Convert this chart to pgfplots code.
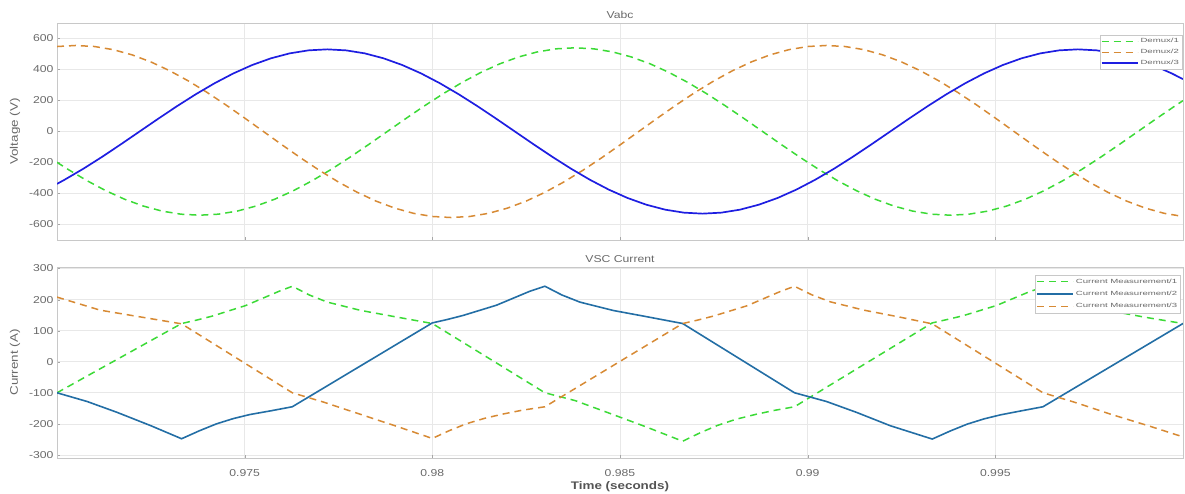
\documentclass[border=0pt]{standalone}
\usepackage{pgfplots}
\pgfplotsset{compat=1.18}
\usepackage{fontspec}
\setmainfont{Liberation Sans}[FakeStretch=1.22]
\newfontfamily\legfont{Liberation Sans}[FakeStretch=1.6]
\definecolor{gc}{RGB}{60,218,55}
\definecolor{oc}{RGB}{215,138,52}
\definecolor{bc}{RGB}{30,30,225}
\definecolor{bc2}{RGB}{35,110,165}
\definecolor{txt}{RGB}{105,105,105}
\definecolor{axc}{RGB}{200,200,200}
\pgfplotsset{
  common/.style={
    scale only axis,
    xmin=0.97, xmax=1.0,
    xtick={0.975,0.98,0.985,0.99,0.995},
    /pgf/number format/assume math mode=true,
    xticklabel style={/pgf/number format/fixed,/pgf/number format/precision=3,font=\fontsize{10}{12}\selectfont,text=txt,yshift=-8pt},
    yticklabel style={font=\fontsize{10}{12}\selectfont,text=txt},
    scaled x ticks=false,
    grid=major, major grid style={color=gray!18, line width=0.6pt},
    axis line style={color=axc, line width=0.8pt},
    tick style={color=gray!70}, tick align=inside, major tick length=3pt,
    xtick pos=bottom, ytick pos=left,
    title style={font=\fontsize{10}{12}\selectfont, text=txt, at={(0.5,1)}, anchor=center, yshift=2pt},
    ylabel style={font=\fontsize{11}{13}\selectfont, text=txt, at={(axis description cs:-0.0373,0.5)}, anchor=center},
    legend cell align=left,
    legend image code/.code={\draw[#1] (0pt,0pt) -- (36pt,0pt);},
    legend style={font=\legfont\fontsize{6}{7.5}\selectfont, text=txt, draw=axc, fill=white, inner xsep=1pt, inner ysep=1.5pt},
  }
}
\begin{document}
\begin{tikzpicture}[x=1pt,y=1pt]
\path[use as bounding box] (0,0) rectangle (1185,493);
\begin{axis}[common,
  at={(57pt,253pt)}, anchor=south west,
  width=1126pt, height=217pt,
  ymin=-700, ymax=700,
  ytick={-600,-400,-200,0,200,400,600},
  xticklabels={},
  title={Vabc},
  ylabel={Voltage (V)},
  legend style={at={(0.926,0.945)}, anchor=north west, row sep=1pt},
]
\addplot[gc, line width=1.5pt, dash pattern=on 7pt off 5pt] coordinates {
(0.9700,-199)(0.9703,-245.2)(0.9708,-317.4)(0.9713,-381.8)(0.9718,-436.9)(0.9723,-481.1)(0.9728,-513.6)(0.9733,-533.4)(0.9738,-540)(0.9743,-533.4)(0.9748,-513.6)(0.9753,-481.1)(0.9758,-436.9)(0.9763,-381.8)(0.9768,-317.4)(0.9773,-245.2)(0.9778,-166.9)(0.9783,-84.5)(0.9788,0)(0.9793,84.5)(0.9798,166.9)(0.9803,245.2)(0.9808,317.4)(0.9813,381.8)(0.9818,436.9)(0.9823,481.1)(0.9828,513.6)(0.9833,533.4)(0.9838,540)(0.9843,533.4)(0.9848,513.6)(0.9853,481.1)(0.9858,436.9)(0.9863,381.8)(0.9868,317.4)(0.9873,245.2)(0.9878,166.9)(0.9883,84.5)(0.9888,0)(0.9893,-84.5)(0.9898,-166.9)(0.9903,-245.2)(0.9908,-317.4)(0.9913,-381.8)(0.9918,-436.9)(0.9923,-481.1)(0.9928,-513.6)(0.9933,-533.4)(0.9938,-540)(0.9943,-533.4)(0.9948,-513.6)(0.9953,-481.1)(0.9958,-436.9)(0.9963,-381.8)(0.9968,-317.4)(0.9973,-245.2)(0.9978,-166.9)(0.9983,-84.5)(0.9988,0)(0.9993,84.5)(0.9998,166.9)(1.0000,199)
};
\addlegendentry{Demux/1}
\addplot[oc, line width=1.5pt, dash pattern=on 7pt off 5pt] coordinates {
(0.9700,548.2)(0.9705,555)(0.9710,548.2)(0.9715,527.9)(0.9720,494.5)(0.9725,449.0)(0.9730,392.4)(0.9735,326.2)(0.9740,252.0)(0.9745,171.5)(0.9750,86.8)(0.9755,0)(0.9760,-86.8)(0.9765,-171.5)(0.9770,-252.0)(0.9775,-326.2)(0.9780,-392.4)(0.9785,-449.0)(0.9790,-494.5)(0.9795,-527.9)(0.9800,-548.2)(0.9805,-555)(0.9810,-548.2)(0.9815,-527.9)(0.9820,-494.5)(0.9825,-449.0)(0.9830,-392.4)(0.9835,-326.2)(0.9840,-252.0)(0.9845,-171.5)(0.9850,-86.8)(0.9855,0)(0.9860,86.8)(0.9865,171.5)(0.9870,252.0)(0.9875,326.2)(0.9880,392.4)(0.9885,449.0)(0.9890,494.5)(0.9895,527.9)(0.9900,548.2)(0.9905,555)(0.9910,548.2)(0.9915,527.9)(0.9920,494.5)(0.9925,449.0)(0.9930,392.4)(0.9935,326.2)(0.9940,252.0)(0.9945,171.5)(0.9950,86.8)(0.9955,0)(0.9960,-86.8)(0.9965,-171.5)(0.9970,-252.0)(0.9975,-326.2)(0.9980,-392.4)(0.9985,-449.0)(0.9990,-494.5)(0.9995,-527.9)(1.0000,-548.2)
};
\addlegendentry{Demux/2}
\addplot[bc, line width=1.7pt] coordinates {
(0.9700,-338)(0.9702,-311.5)(0.9707,-240.6)(0.9712,-163.8)(0.9717,-82.9)(0.9722,0)(0.9727,82.9)(0.9732,163.8)(0.9737,240.6)(0.9742,311.5)(0.9747,374.8)(0.9752,428.8)(0.9757,472.2)(0.9762,504.1)(0.9767,523.5)(0.9772,530)(0.9777,523.5)(0.9782,504.1)(0.9787,472.2)(0.9792,428.8)(0.9797,374.8)(0.9802,311.5)(0.9807,240.6)(0.9812,163.8)(0.9817,82.9)(0.9822,0)(0.9827,-82.9)(0.9832,-163.8)(0.9837,-240.6)(0.9842,-311.5)(0.9847,-374.8)(0.9852,-428.8)(0.9857,-472.2)(0.9862,-504.1)(0.9867,-523.5)(0.9872,-530)(0.9877,-523.5)(0.9882,-504.1)(0.9887,-472.2)(0.9892,-428.8)(0.9897,-374.8)(0.9902,-311.5)(0.9907,-240.6)(0.9912,-163.8)(0.9917,-82.9)(0.9922,0)(0.9927,82.9)(0.9932,163.8)(0.9937,240.6)(0.9942,311.5)(0.9947,374.8)(0.9952,428.8)(0.9957,472.2)(0.9962,504.1)(0.9967,523.5)(0.9972,530)(0.9977,523.5)(0.9982,504.1)(0.9987,472.2)(0.9992,428.8)(0.9997,374.8)(1.0000,338)
};
\addlegendentry{Demux/3}
\end{axis}
\begin{axis}[common,
  at={(57pt,35pt)}, anchor=south west,
  width=1126pt, height=191pt,
  ymin=-310, ymax=305,
  ytick={-300,-200,-100,0,100,200,300},
  title={VSC Current},
  ylabel={Current (A)},
  xlabel={Time (seconds)},
  xlabel style={font=\bfseries\fontsize{11}{13}\selectfont, text=txt!80!black, at={(axis description cs:0.5,0)}, anchor=center, yshift=-29pt},
  legend style={at={(0.8686,0.958)}, anchor=north west, row sep=2.5pt},
]
\addplot[gc, line width=1.5pt, dash pattern=on 7pt off 5pt] coordinates {
(0.9700,-100)(0.97332,123)(0.97372,134)(0.97414,147)(0.97503,181)(0.97592,227)(0.97627,243)(0.97672,215)(0.9772,192)(0.9781,165)(0.9790,145)(0.9800,123)(0.9830,-100)(0.9838,-125)(0.9847,-165)(0.9857,-210)(0.98667,-256)(0.98715,-228)(0.9876,-205)(0.9881,-185)(0.9886,-170)(0.9891,-157)(0.98965,-145)(0.99332,125)(0.99372,136)(0.99414,148)(0.99503,181)(0.99592,226)(0.99627,240)(0.99672,213)(0.9972,190)(0.9981,163)(0.9990,143)(1.0000,123)
};
\addlegendentry{Current Measurement/1}
\addplot[bc2, line width=1.6pt] coordinates {
(0.9700,-100)(0.9708,-128)(0.9716,-163)(0.9725,-206)(0.97332,-248)(0.9738,-222)(0.97425,-200)(0.9747,-183)(0.97514,-170)(0.9757,-158)(0.97627,-145)(0.9800,125)(0.9804,136)(0.98082,149)(0.98171,182)(0.9826,227)(0.9830,243)(0.98345,215)(0.98393,192)(0.98482,165)(0.98571,145)(0.98667,123)(0.98965,-100)(0.9905,-128)(0.9913,-163)(0.9922,-206)(0.99332,-249)(0.9938,-223)(0.99425,-201)(0.9947,-184)(0.99514,-171)(0.9957,-158)(0.99627,-145)(1.0000,123)
};
\addlegendentry{Current Measurement/2}
\addplot[oc, line width=1.5pt, dash pattern=on 7pt off 5pt] coordinates {
(0.9700,208)(0.97115,166)(0.97248,139)(0.97332,122)(0.97627,-100)(0.9771,-130)(0.9781,-170)(0.9791,-210)(0.9800,-247)(0.98045,-222)(0.9809,-200)(0.9814,-182)(0.9819,-168)(0.9824,-156)(0.9830,-145)(0.98667,123)(0.98707,134)(0.98749,147)(0.98838,180)(0.98927,226)(0.98965,243)(0.9901,216)(0.9906,193)(0.9915,166)(0.9924,145)(0.99332,122)(0.99627,-100)(0.9971,-130)(0.9981,-170)(0.9991,-207)(1.0000,-242)
};
\addlegendentry{Current Measurement/3}
\end{axis}
\end{tikzpicture}
\end{document}
